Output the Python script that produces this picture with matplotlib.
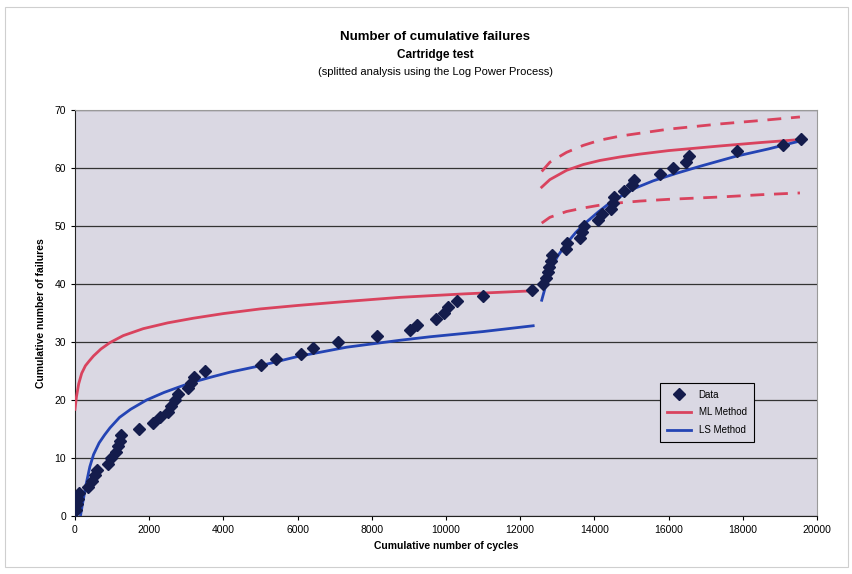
import matplotlib.pyplot as plt
import matplotlib.patches as patches

plt.rcParams["font.family"] = ["Liberation Sans", "DejaVu Sans"]

# Cumulative failures: cycle count at which each failure occurred
failure_cycles = [
    40, 60, 80, 100, 350, 460, 540, 600, 890, 970,
    1100, 1160, 1210, 1240, 1720, 2100, 2290, 2500, 2590, 2700,
    2780, 3050, 3130, 3210, 3500, 5010, 5420, 6090, 6410, 7090,
    8140, 9030, 9220, 9730, 9950, 10050, 10300, 11000, 12320, 12610,
    12700, 12750, 12780, 12830, 12860, 13230, 13260, 13610, 13670, 13720,
    14100, 14200, 14450, 14500, 14530, 14800, 15010, 15070, 15770, 16120,
    16470, 16550, 17840, 19080, 19570,
]
failure_count = list(range(1, len(failure_cycles) + 1))

# ML fit, first phase
ml1_x = [0, 40, 100, 180, 280, 380, 500, 700, 943, 1300, 1840, 2500, 3190, 4000, 4990, 6000, 7140, 8760, 10500, 12260]
ml1_y = [18.4, 20.6, 22.8, 24.6, 25.9, 26.7, 27.6, 28.8, 29.9, 31.1, 32.3, 33.3, 34.1, 34.9, 35.7, 36.3, 36.9, 37.7, 38.3, 38.8]

# LS fit, first phase
ls1_x = [120, 200, 300, 400, 500, 650, 800, 943, 1200, 1500, 1930, 2400, 2830, 3190, 3700, 4180, 4990, 6000, 7320, 8760, 9570, 11000, 12350]
ls1_y = [-1.0, 2.0, 5.5, 8.5, 10.6, 12.6, 14.0, 15.2, 17.0, 18.4, 20.0, 21.3, 22.3, 23.1, 24.0, 24.8, 25.9, 27.5, 29.1, 30.3, 30.9, 31.8, 32.8]

# ML fit, second phase, with upper / lower confidence bounds
ml2_x = [12580, 12800, 13250, 13700, 14150, 14690, 15230, 16000, 17385, 18500, 19540]
ml2_y = [56.7, 58.0, 59.6, 60.6, 61.3, 61.9, 62.4, 63.0, 63.8, 64.4, 64.9]
ml2_hi = [59.4, 61.0, 62.7, 63.9, 64.8, 65.5, 66.0, 66.7, 67.6, 68.2, 68.8]
ml2_lo = [50.5, 51.5, 52.5, 53.1, 53.6, 54.0, 54.3, 54.6, 55.0, 55.4, 55.7]

# LS fit, second phase
ls2_x = [12580, 12700, 12800, 13000, 13250, 13500, 13790, 14100, 14420, 15050, 15590, 16220, 16850, 17800, 18700, 19570]
ls2_y = [37.2, 40.0, 42.2, 44.7, 47.0, 48.9, 50.7, 52.4, 54.0, 56.4, 57.8, 59.1, 60.3, 62.0, 63.3, 64.7]

RED = "#d9435e"
BLUE = "#2444b4"
NAVY = "#141c4c"
PLOT_BG = "#dad8e3"

fig = plt.figure(figsize=(8.53, 5.74), dpi=100)
fig.patch.set_facecolor("white")
fig.patches.append(patches.Rectangle((0.006, 0.012), 0.988, 0.975, transform=fig.transFigure,
                                     fill=False, edgecolor="#cfcfcf", linewidth=0.8))

ax = fig.add_axes([75 / 853, 1 - 516 / 574, 742 / 853, 406 / 574])
ax.set_facecolor(PLOT_BG)

ax.plot(ml1_x, ml1_y, color=RED, lw=2.0, zorder=3)
ax.plot(ls1_x, ls1_y, color=BLUE, lw=2.0, zorder=3)
ax.plot(ml2_x, ml2_y, color=RED, lw=2.0, zorder=3)
ax.plot(ml2_x, ml2_hi, color=RED, lw=2.0, ls=(0, (5, 3.5)), zorder=3)
ax.plot(ml2_x, ml2_lo, color=RED, lw=2.0, ls=(0, (5, 3.5)), zorder=3)
ax.plot(ls2_x, ls2_y, color=BLUE, lw=2.0, zorder=3)
ax.plot(failure_cycles, failure_count, ls="none", marker="D", markersize=6.5,
        color=NAVY, zorder=4)

ax.set_xlim(0, 20000)
ax.set_ylim(0, 70)
ax.set_xticks(range(0, 20001, 2000))
ax.set_yticks(range(0, 71, 10))
ax.grid(axis="y", color="#333333", lw=0.9)
ax.set_axisbelow(True)
ax.tick_params(labelsize=7.5, length=3, width=0.8, direction="out")
for side in ["top", "right"]:
    ax.spines[side].set_color("#9a9a9a")
for side in ["left", "bottom"]:
    ax.spines[side].set_color("#222222")

ax.set_xlabel("Cumulative number of cycles", fontsize=7.5, fontweight="bold", labelpad=4)
ax.set_ylabel("Cumulative number of failures", fontsize=7.5, fontweight="bold", labelpad=6)

fig.text(0.51, 1 - 37 / 574, "Number of cumulative failures", ha="center", va="center",
         fontsize=9.5, fontweight="bold")
fig.text(0.51, 1 - 55 / 574, "Cartridge test", ha="center", va="center",
         fontsize=8.5, fontweight="bold")
fig.text(0.51, 1 - 72 / 574, "(splitted analysis using the Log Power Process)", ha="center",
         va="center", fontsize=8)

handles = [
    plt.Line2D([0], [0], ls="none", marker="D", markersize=6.5, color=NAVY),
    plt.Line2D([0], [0], color=RED, lw=2),
    plt.Line2D([0], [0], color=BLUE, lw=2),
]
leg = ax.legend(handles, ["Data", "ML Method", "LS Method"], loc="upper left",
                bbox_to_anchor=((655 - 75) / 742, (516 - 378) / 406), fontsize=7,
                frameon=True, fancybox=False, handlelength=2.5, borderpad=0.7,
                labelspacing=0.8)
leg.get_frame().set_edgecolor("black")
leg.get_frame().set_linewidth(0.8)
leg.get_frame().set_facecolor(PLOT_BG)
leg.get_frame().set_alpha(1)

fig.savefig("out.png", dpi=100)
